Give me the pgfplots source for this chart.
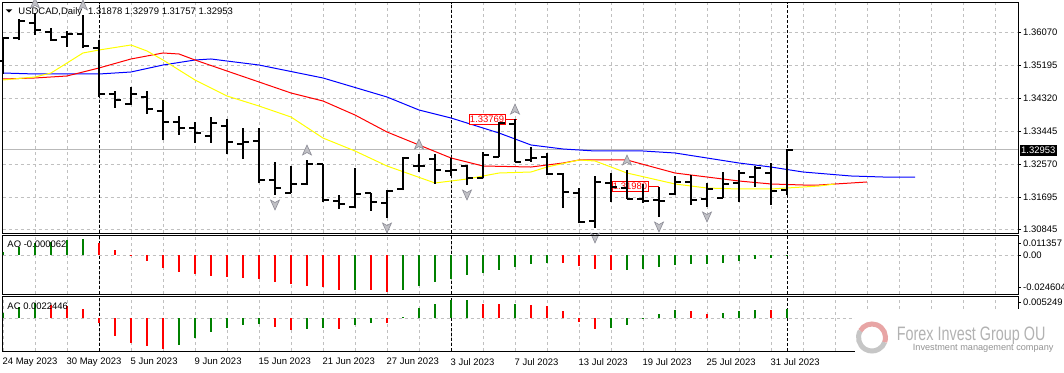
\documentclass[border=0pt]{standalone}
\usepackage{pgfplots}
\pgfplotsset{compat=1.18}
\usepackage{pgfplotstable}
\usepackage{fontspec}
\setmainfont{Liberation Sans}
\newfontfamily\wmfont[FakeStretch=0.74]{Liberation Sans}

\definecolor{mtgreen}{RGB}{0,128,0}
\definecolor{mtred}{RGB}{255,0,0}
\definecolor{mtblue}{RGB}{0,0,255}
\definecolor{mtyellow}{RGB}{255,255,0}
\definecolor{gridgray}{RGB}{192,192,192}
\definecolor{fracgray}{RGB}{140,140,150}
\definecolor{wmgray}{RGB}{178,178,178}
\definecolor{wmpink}{RGB}{232,165,165}

\pgfdeclareplotmark{otick}{\pgfpathmoveto{\pgfqpoint{-6bp}{0pt}}\pgfpathlineto{\pgfqpoint{0pt}{0pt}}\pgfusepathqstroke}
\pgfdeclareplotmark{ctick}{\pgfpathmoveto{\pgfqpoint{0pt}{0pt}}\pgfpathlineto{\pgfqpoint{6bp}{0pt}}\pgfusepathqstroke}
\pgfdeclareplotmark{fup}{%
  \pgfpathmoveto{\pgfqpoint{0pt}{15bp}}%
  \pgfpathlineto{\pgfqpoint{-4.5bp}{5bp}}%
  \pgfpathlineto{\pgfqpoint{0pt}{7.5bp}}%
  \pgfpathlineto{\pgfqpoint{4.5bp}{5bp}}%
  \pgfpathclose\pgfusepathqfillstroke}
\pgfdeclareplotmark{fdn}{%
  \pgfpathmoveto{\pgfqpoint{0pt}{-15bp}}%
  \pgfpathlineto{\pgfqpoint{-4.5bp}{-5bp}}%
  \pgfpathlineto{\pgfqpoint{0pt}{-7.5bp}}%
  \pgfpathlineto{\pgfqpoint{4.5bp}{-5bp}}%
  \pgfpathclose\pgfusepathqfillstroke}

\pgfplotstableread{
i O H L C
0 1.35300 1.35919 1.34965 1.35919
1 1.35919 1.36423 1.35866 1.36370
2 1.36317 1.36583 1.35999 1.36132
3 1.36079 1.36185 1.35840 1.35866
4 1.35946 1.36105 1.35681 1.36026
5 1.36026 1.36529 1.35654 1.35707
6 1.35654 1.35866 1.34355 1.34434
7 1.34434 1.34514 1.34063 1.34275
8 1.34169 1.34620 1.34143 1.34434
9 1.34355 1.34514 1.33904 1.34037
10 1.33984 1.34275 1.33214 1.33692
11 1.33692 1.33851 1.33347 1.33533
12 1.33533 1.33692 1.33135 1.33400
13 1.33321 1.33824 1.33135 1.33665
14 1.33586 1.33771 1.32843 1.33161
15 1.33108 1.33533 1.32711 1.33161
16 1.33188 1.33533 1.32074 1.32154
17 1.32154 1.32631 1.31756 1.31941
18 1.31809 1.32525 1.31809 1.32048
19 1.32048 1.32684 1.32021 1.32578
20 1.32578 1.32578 1.31570 1.31623
21 1.31597 1.31756 1.31385 1.31517
22 1.31438 1.32472 1.31411 1.31782
23 1.31809 1.31809 1.31332 1.31570
24 1.31544 1.31888 1.31146 1.31862
25 1.31915 1.32764 1.31888 1.32737
26 1.32525 1.32843 1.32366 1.32525
27 1.32711 1.32843 1.32048 1.32419
28 1.32392 1.32737 1.32260 1.32419
29 1.32525 1.32551 1.32021 1.32207
30 1.32207 1.32896 1.32207 1.32817
31 1.32764 1.33692 1.32764 1.33665
32 1.33639 1.33769 1.32631 1.32631
33 1.32684 1.33029 1.32631 1.32737
34 1.32764 1.32870 1.32286 1.32313
35 1.32313 1.32339 1.31411 1.31835
36 1.31809 1.31941 1.31013 1.31040
37 1.31066 1.32260 1.30881 1.32101
38 1.32074 1.32339 1.31570 1.31968
39 1.31941 1.32419 1.31650 1.31650
40 1.31650 1.32048 1.31544 1.31597
41 1.31623 1.31968 1.31172 1.31597
42 1.31782 1.32260 1.31756 1.32101
43 1.32101 1.32286 1.31491 1.31623
44 1.31650 1.32074 1.31438 1.31915
45 1.31676 1.32366 1.31676 1.32048
46 1.32074 1.32419 1.31570 1.32339
47 1.32233 1.32525 1.31968 1.32472
48 1.32339 1.32604 1.31491 1.31862
49 1.31878 1.32979 1.31757 1.32953
}\ohlc

\pgfplotstableread{
i P
0 1.34991
2 1.34965
6 1.34965
8 1.35018
10 1.35203
12 1.35336
13 1.35363
14 1.35309
16 1.35203
20 1.34859
24 1.34355
26 1.34010
28 1.33798
31 1.33400
33 1.33082
35 1.32976
37 1.32923
40 1.32923
42 1.32870
44 1.32737
46 1.32604
48 1.32498
50 1.32366
53 1.32260
55 1.32233
57 1.32233
}\jaw

\pgfplotstableread{
i P
0 1.34832
2 1.34859
4 1.34912
6 1.35124
8 1.35363
10 1.35522
11 1.35495
12 1.35336
14 1.35044
16 1.34753
18 1.34461
20 1.34249
22 1.33877
24 1.33427
26 1.33082
28 1.32737
30 1.32525
33 1.32498
35 1.32604
36 1.32684
39 1.32684
42 1.32339
44 1.32233
46 1.32127
48 1.32048
50 1.32021
51 1.32021
53 1.32074
54 1.32101
}\teeth

\pgfplotstableread{
i P
0 1.34806
2 1.34885
3 1.34991
4 1.35256
5 1.35522
6 1.35601
8 1.35734
9 1.35575
10 1.35336
12 1.34806
14 1.34381
16 1.34116
18 1.33824
20 1.33267
22 1.32923
24 1.32525
27 1.32074
29 1.32180
31 1.32339
33 1.32366
34 1.32498
36 1.32684
37 1.32658
39 1.32339
42 1.32048
44 1.31941
46 1.31915
48 1.31915
50 1.31968
51 1.31994
52 1.32048
}\lips

\pgfplotstableread{
i P
2 1.36583
5 1.36529
19 1.32684
26 1.32843
32 1.33769
39 1.32419
}\fupT

\pgfplotstableread{
i P
17 1.31756
24 1.31146
29 1.32021
37 1.30881
41 1.31172
44 1.31438
}\fdnT

\pgfplotstableread{
i v g
0 0.00221 1
1 0.00536 1
2 0.00788 1
3 0.00851 1
4 0.00958 1
5 0.01040 1
6 0.00788 0
7 0.00328 0
8 0.00044 0
9 -0.00365 0
10 -0.00788 0
11 -0.01040 0
12 -0.01184 0
13 -0.01292 0
14 -0.01373 0
15 -0.01436 0
16 -0.01518 0
17 -0.01670 0
18 -0.01814 0
19 -0.01922 0
20 -0.01985 0
21 -0.02192 0
22 -0.02180 1
23 -0.02200 0
24 -0.02318 0
25 -0.02192 1
26 -0.01940 1
27 -0.01670 1
28 -0.01499 1
29 -0.01247 1
30 -0.01140 1
31 -0.00932 1
32 -0.00725 1
33 -0.00573 1
34 -0.00473 1
35 -0.00480 0
36 -0.00680 0
37 -0.00851 0
38 -0.00932 0
39 -0.00925 1
40 -0.00869 1
41 -0.00725 1
42 -0.00617 1
43 -0.00554 1
44 -0.00550 1
45 -0.00491 1
46 -0.00365 1
47 -0.00239 1
48 -0.00158 1
49 -0.000062 1
}\ao

\pgfplotstableread{
i v g
0 0.00132 1
1 0.00259 1
2 0.00353 1
3 0.00313 0
4 0.00294 0
5 0.00219 0
6 -0.00104 0
7 -0.00417 0
8 -0.00574 0
9 -0.00652 0
10 -0.00716 0
11 -0.00629 1
12 -0.00457 1
13 -0.00315 1
14 -0.00221 1
15 -0.00158 1
16 -0.00134 1
17 -0.00198 0
18 -0.00275 0
19 -0.00245 1
20 -0.00228 1
21 -0.00250 0
22 -0.00158 1
23 -0.00104 1
24 -0.00118 0
25 0.00038 1
26 0.00250 1
27 0.00337 1
28 0.00431 1
29 0.00435 1
30 0.00337 0
31 0.00332 0
32 0.00338 1
33 0.00313 0
34 0.00290 0
35 0.00172 0
36 -0.00080 0
37 -0.00245 0
38 -0.00240 1
39 -0.00151 1
40 0.00007 1
41 0.00101 1
42 0.00195 1
43 0.00172 0
44 0.00101 0
45 0.00125 1
46 0.00172 1
47 0.00195 1
48 0.00192 0
49 0.0022446 1
}\ac

\pgfplotsset{
  mtpanel/.style={
    scale only axis, width=1015.5bp, xmin=-0.031, xmax=63.44,
    anchor=south west,
    axis line style={black, line width=1bp},
    xtick={2,4,...,62}, xticklabels={}, xtick style={draw=none},
    xmajorgrids, major grid style={gridgray, dash pattern=on 3bp off 3bp, line width=0.8bp},
    extra x ticks={6,28,49}, extra x tick labels={},
    extra x tick style={grid=major, major grid style={black, dash pattern=on 3bp off 2bp, line width=0.8bp}},
    scaled ticks=false,
    yticklabel pos=right, ytick pos=right, tick align=outside, major tick length=3bp,
    ytick style={black, line width=0.8bp},
    ticklabel style={font=\fontsize{9.5}{11}\selectfont, inner sep=0pt},
    yticklabel style={anchor=west, xshift=2bp},
  },
}

\begin{document}
\begin{tikzpicture}[x=1bp,y=1bp]
\path[use as bounding box] (0,0) rectangle (1064,372);

% ---------------- main price panel
\begin{axis}[mtpanel, at={(2.5bp,139bp)}, height=230.3bp,
  ymin=1.307481, ymax=1.368556,
  ytick={1.36070,1.35195,1.34320,1.33445,1.32570,1.31695,1.30845},
  yticklabels={1.36070,1.35195,1.34320,1.33445,1.32570,1.31695,1.30845},
  ymajorgrids]
\addplot[gray!55, line width=0.8bp] coordinates {(-0.031,1.32953) (63.44,1.32953)};
\addplot[mtblue, line width=1bp] table[x=i,y=P] {\jaw};
\addplot[mtred, line width=1bp] table[x=i,y=P] {\teeth};
\addplot[mtyellow, line width=1bp] table[x=i,y=P] {\lips};
\node[draw=mtred, fill=white, text=mtred, inner xsep=1bp, inner ysep=1.5bp, anchor=east,
  font=\fontsize{9.5}{11}\selectfont] at (axis cs:31.4,1.33769) {1.33769};
\draw[mtred, line width=0.8bp] (axis cs:31.4,1.33769) -- (axis cs:32.1,1.33769);
\node[draw=mtred, fill=white, text=mtred, inner xsep=1bp, inner ysep=1.5bp, anchor=east,
  font=\fontsize{9.5}{11}\selectfont] at (axis cs:40.33,1.31980) {1.31980};
\draw[mtred, line width=0.8bp] (axis cs:40.33,1.31980) -- (axis cs:41,1.31980);
% high-low
\addplot[only marks, mark=none, mark options={draw=none, fill=none}, mark size=0pt,
  error bars/.cd, y dir=plus, y explicit, error mark=none,
  error bar style={black, line width=2.2bp}]
  table[x=i, y=L, y error expr=\thisrow{H}-\thisrow{L}] {\ohlc};
\addplot[only marks, mark=otick, mark options={black, line width=2bp, solid}] table[x=i,y=O] {\ohlc};
\addplot[only marks, mark=ctick, mark options={black, line width=2bp, solid}] table[x=i,y=C] {\ohlc};
% fractals
\addplot[only marks, mark=fup, mark options={fill=fracgray!55, draw=fracgray, line width=0.6bp}] table[x=i,y=P] {\fupT};
\addplot[only marks, mark=fdn, mark options={fill=fracgray!55, draw=fracgray, line width=0.6bp}] table[x=i,y=P] {\fdnT};
\end{axis}

% ---------------- AO panel
\begin{axis}[mtpanel, at={(2.5bp,78bp)}, height=58bp,
  ymin=-0.024444, ymax=0.012096,
  ytick={0.0075,0,-0.02022}, yticklabels={0.011357,0.00,-0.024604}]
\addplot[gridgray, dash pattern=on 3bp off 3bp, line width=0.8bp] coordinates {(-0.031,0) (63.44,0)};
\addplot[ycomb, mtgreen, line width=2.2bp] table[x=i, y expr={\thisrow{g}==1 ? \thisrow{v} : nan}] {\ao};
\addplot[ycomb, mtred, line width=2.2bp] table[x=i, y expr={\thisrow{g}==0 ? \thisrow{v} : nan}] {\ao};
\end{axis}

% ---------------- AC panel
\begin{axis}[mtpanel, at={(2.5bp,21bp)}, height=55bp,
  ymin=-0.0076976, ymax=0.005249,
  ytick={0.00367,0}, yticklabels={0.005249,0.00},
  xtick={0,2,...,62},
  xticklabels={24 May 2023,{},30 May 2023,{},5 Jun 2023,{},9 Jun 2023,{},15 Jun 2023,{},21 Jun 2023,{},27 Jun 2023,{},3 Jul 2023,{},7 Jul 2023,{},13 Jul 2023,{},19 Jul 2023,{},25 Jul 2023,{},31 Jul 2023,{},{},{},{},{},{},{},{}},
  xticklabel style={anchor=north west, xshift=-0.5bp, yshift=-4bp}]
\addplot[gridgray, dash pattern=on 3bp off 3bp, line width=0.8bp] coordinates {(-0.031,0) (63.44,0)};
\addplot[ycomb, mtgreen, line width=2.2bp] table[x=i, y expr={\thisrow{g}==1 ? \thisrow{v} : nan}] {\ac};
\addplot[ycomb, mtred, line width=2.2bp] table[x=i, y expr={\thisrow{g}==0 ? \thisrow{v} : nan}] {\ac};
\end{axis}

% ---------------- texts
\fill[black] (5.7,362.7) -- (12.3,362.7) -- (9,359.3) -- cycle;
\node[anchor=base west, inner sep=0pt, font=\fontsize{9.5}{11}\selectfont] at (18.3,358)
  {USDCAD,Daily\hspace{6bp}1.31878 1.32979 1.31757 1.32953};
\node[anchor=base west, inner sep=0pt, font=\fontsize{9.5}{11}\selectfont] at (7.3,124.5) {AO -0.000062};
\node[anchor=base west, inner sep=0pt, font=\fontsize{9.5}{11}\selectfont] at (7.3,62.7) {AC 0.0022446};
\node[fill=black, text=white, anchor=west, inner xsep=1.5bp, inner ysep=2bp, font=\fontsize{9.5}{11}\selectfont] at (1019.5,221.5) {1.32953};

% ---------------- watermark
\fill[white] (855,14) rectangle (1057,63);
\draw[gray!45, line width=5bp] (872,34.5) ++(150:13.5) arc[start angle=150, end angle=340, radius=13.5];
\draw[wmpink, line width=5bp] (872,34.5) ++(-20:13.5) arc[start angle=-20, end angle=150, radius=13.5];
\node[anchor=base west, inner sep=0pt, text=wmgray, font=\wmfont\fontsize{19.5}{21}\selectfont] at (896.7,32) {Forex Invest Group OU};
\node[anchor=base west, inner sep=0pt, text=gray!85, font=\fontsize{9.2}{10}\selectfont] at (912.7,22) {Investment management company};
\end{tikzpicture}
\end{document}
